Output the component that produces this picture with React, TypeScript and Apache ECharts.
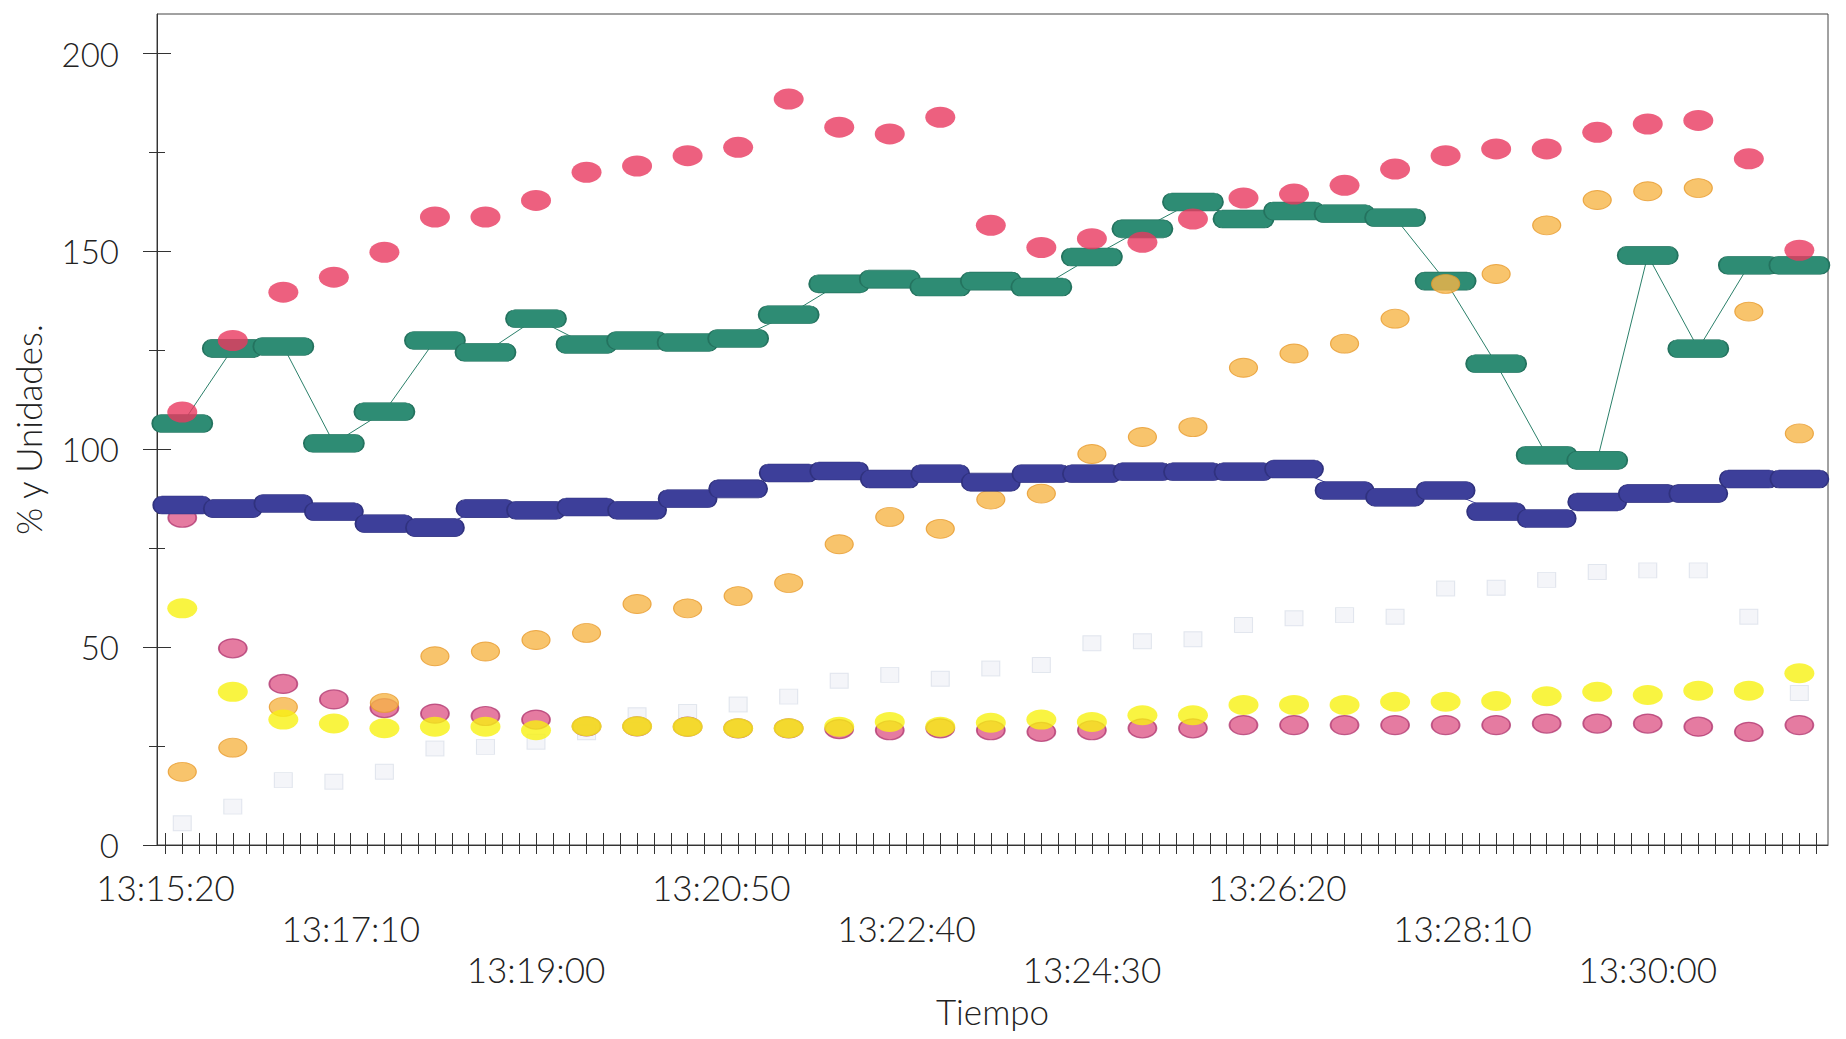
import React, { useEffect, useRef } from 'react';
import * as echarts from 'echarts';

// Sample times (every 30 s)
const times = [
  '13:15:30', '13:16:00', '13:16:30', '13:17:00', '13:17:30', '13:18:00', '13:18:30', '13:19:00',
  '13:19:30', '13:20:00', '13:20:30', '13:21:00', '13:21:30', '13:22:00', '13:22:30', '13:23:00',
  '13:23:30', '13:24:00', '13:24:30', '13:25:00', '13:25:30', '13:26:00', '13:26:30', '13:27:00',
  '13:27:30', '13:28:00', '13:28:30', '13:29:00', '13:29:30', '13:30:00', '13:30:30', '13:31:00',
  '13:31:30',
];

const rojo = [109.4, 127.5, 139.7, 143.5, 149.8, 158.7, 158.7, 162.9, 170.0, 171.6, 174.2, 176.3, 188.5, 181.4, 179.7, 183.9,
  156.6, 151.0, 153.2, 152.3, 158.2, 163.5, 164.5, 166.7, 170.8, 174.2, 175.9, 175.9, 180.1, 182.2, 183.1, 173.4, 150.3];

const verde = [106.5, 125.5, 126.0, 101.5, 109.5, 127.5, 124.5, 133.0, 126.5, 127.5, 127.0, 128.0, 134.0, 141.8, 143.0, 141.0,
  142.5, 141.0, 148.6, 155.7, 162.5, 158.2, 160.2, 159.5, 158.5, 142.5, 121.6, 98.5, 97.2, 149.0, 125.4, 146.5, 146.5];

const azul = [85.9, 85.0, 86.3, 84.2, 81.2, 80.2, 85.0, 84.6, 85.4, 84.6, 87.5, 90.0, 94.0, 94.5, 92.5, 93.8,
  91.7, 93.8, 93.8, 94.3, 94.3, 94.3, 95.0, 89.6, 87.9, 89.6, 84.2, 82.5, 86.7, 88.8, 88.8, 92.5, 92.5];

const naranja = [18.5, 24.6, 34.9, null, 35.9, 47.7, 48.9, 51.8, 53.6, 60.9, 59.8, 62.9, 66.2, 76.0, 82.9, 79.9,
  87.3, 88.8, 98.8, 103.1, 105.6, 120.6, 124.2, 126.7, 133.0, 141.8, 144.3, 156.6, 163.0, 165.2, 166.0, 134.8, 104.0];

const amarillo = [59.8, 38.7, 31.7, 30.7, 29.5, 29.9, 29.9, 29.0, 30.0, 30.0, 29.9, 29.5, 29.5, 29.9, 31.1, 29.9,
  30.9, 31.7, 31.1, 32.8, 32.8, 35.4, 35.4, 35.4, 36.2, 36.2, 36.4, 37.6, 38.7, 37.9, 39.0, 39.0, 43.4];

const rosa = [82.7, 49.7, 40.7, 36.8, 34.6, 33.2, 32.6, 31.7, 30.0, 30.0, 29.9, 29.5, 29.5, 29.3, 29.0, 29.5,
  29.0, 28.6, 29.0, 29.5, 29.5, 30.3, 30.3, 30.3, 30.3, 30.3, 30.3, 30.7, 30.7, 30.7, 29.9, 28.6, 30.3];

const gris = [5.5, 9.7, 16.4, 16.0, 18.5, 24.4, 24.8, 26.1, 28.5, 32.8, 33.6, 35.5, 37.5, 41.5, 43.0, 42.0,
  44.6, 45.5, 51.0, 51.5, 52.0, 55.6, 57.3, 58.1, 57.7, 64.8, 65.0, 67.0, 69.0, 69.4, 69.4, 57.7, 38.4];

// Axis ticks / labels
const xTickLabels = ['13:15:20', '13:17:10', '13:19:00', '13:20:50', '13:22:40', '13:24:30', '13:26:20', '13:28:10', '13:30:00'];
const xAxisStart = '13:15:15';
const xAxisEnd = '13:31:47';
const xMinorFirst = '13:15:20';
const xMinorLast = '13:31:40';
const xMinorStep = 10;
const yTickLabels = [0, 50, 100, 150, 200];
const yMinorTicks = [25, 75, 125, 175];
const yMax = 210;

const toSec = (s: string) => {
  const [h, m, ss] = s.split(':').map(Number);
  return h * 3600 + m * 60 + ss;
};
const pad = (n: number) => (n < 10 ? '0' + n : '' + n);
const fmt = (v: number) => {
  const h = Math.floor(v / 3600);
  const m = Math.floor((v % 3600) / 60);
  const s = Math.round(v % 60);
  return `${h}:${pad(m)}:${pad(s)}`;
};

const PILL = 'path://M9,0L51,0A9,9,0,0,1,51,18L9,18A9,9,0,0,1,9,0Z';
const ELLIPSE = 'path://M0,10A15,10,0,1,1,30,10A15,10,0,1,1,0,10Z';

const FONT = 'Lato';

export default function App() {
  const ref = useRef<HTMLDivElement>(null);

  useEffect(() => {
    document.body.style.margin = '0';
    const chart = echarts.init(ref.current!, undefined, { renderer: 'svg' });

    const xs = times.map(toSec);
    const pair = (arr: (number | null)[]) => xs.map((x, i) => [x, arr[i]]);
    const majorX = xTickLabels.map(toSec);
    const minorX: number[] = [];
    for (let t = toSec(xMinorFirst); t <= toSec(xMinorLast); t += xMinorStep) minorX.push(t);
    const xMin = toSec(xAxisStart);
    const xMax = toSec(xAxisEnd);

    const axisColor = '#333';
    const textColor = '#222';

    const baseX = {
      type: 'value',
      min: xMin,
      max: xMax,
      position: 'bottom',
      splitLine: { show: false },
    };
    const baseY = {
      type: 'value',
      min: 0,
      max: yMax,
      position: 'left',
      splitLine: { show: false },
    };

    const option: any = {
      animation: false,
      backgroundColor: '#ffffff',
      grid: {
        left: 157,
        right: 18,
        top: 14,
        bottom: 194,
        show: true,
        borderColor: '#444',
        borderWidth: 1,
        containLabel: false,
      },
      xAxis: [
        {
          ...baseX,
          axisLine: { show: true, lineStyle: { color: axisColor, width: 1 } },
          axisTick: { show: true, inside: false, length: 9, customValues: minorX, lineStyle: { color: axisColor, width: 1 } },
          axisLabel: {
            show: true,
            customValues: majorX,
            margin: 21,
            fontFamily: FONT,
            fontWeight: 300,
            fontSize: 35,
            lineHeight: 41,
            color: textColor,
            formatter: (v: number) => {
              const idx = majorX.indexOf(v);
              const row = idx >= 0 ? idx % 3 : 0;
              return '\n'.repeat(row) + (idx >= 0 ? xTickLabels[idx] : fmt(v));
            },
          },
          name: 'Tiempo',
          nameLocation: 'middle',
          nameGap: 146,
          nameTextStyle: { fontFamily: FONT, fontWeight: 300, fontSize: 35, color: textColor },
        },
        {
          ...baseX,
          axisLine: { show: false },
          axisTick: { show: true, inside: true, length: 12, customValues: minorX, lineStyle: { color: axisColor, width: 1 } },
          axisLabel: { show: false },
        },
      ],
      yAxis: [
        {
          ...baseY,
          axisLine: { show: true, lineStyle: { color: axisColor, width: 1 } },
          axisTick: { show: true, inside: false, length: 14, customValues: yTickLabels, lineStyle: { color: axisColor, width: 1 } },
          axisLabel: {
            show: true,
            customValues: yTickLabels,
            margin: 38,
            fontFamily: FONT,
            fontWeight: 300,
            fontSize: 33,
            lineHeight: 26,
            color: textColor,
          },
          name: '% y Unidades.',
          nameLocation: 'middle',
          nameRotate: 90,
          nameGap: 112,
          nameTextStyle: { fontFamily: FONT, fontWeight: 300, fontSize: 35, color: textColor },
        },
        {
          ...baseY,
          axisLine: { show: false },
          axisTick: { show: true, inside: true, length: 14, customValues: yTickLabels, lineStyle: { color: axisColor, width: 1 } },
          axisLabel: { show: false },
        },
        {
          ...baseY,
          axisLine: { show: false },
          axisTick: { show: true, inside: true, length: 8, customValues: yMinorTicks, lineStyle: { color: axisColor, width: 1 } },
          axisLabel: { show: false },
        },
        {
          ...baseY,
          axisLine: { show: false },
          axisTick: { show: true, inside: false, length: 8, customValues: yMinorTicks, lineStyle: { color: axisColor, width: 1 } },
          axisLabel: { show: false },
        },
      ],
      series: [
        {
          name: 'Gris',
          type: 'scatter',
          data: pair(gris),
          symbol: 'rect',
          symbolSize: [18, 15],
          itemStyle: { color: 'rgba(214,220,232,0.35)', borderColor: 'rgba(165,178,200,0.35)', borderWidth: 1 },
          z: 1,
          silent: true,
        },
        {
          name: 'Verde',
          type: 'line',
          data: pair(verde),
          symbol: PILL,
          symbolSize: [60, 18],
          showAllSymbol: true,
          itemStyle: { color: '#2e8c74', borderColor: '#24735f', borderWidth: 1 },
          lineStyle: { color: '#2b806a', width: 1 },
          z: 2,
          silent: true,
        },
        {
          name: 'Rosa',
          type: 'scatter',
          data: pair(rosa),
          symbol: ELLIPSE,
          symbolSize: [28, 19],
          itemStyle: { color: '#de5a8a', borderColor: '#b13a72', borderWidth: 1.5 },
          z: 3,
          silent: true,
        },
        {
          name: 'Naranja',
          type: 'scatter',
          data: pair(naranja),
          symbol: ELLIPSE,
          symbolSize: [28, 19],
          itemStyle: { color: '#f6b547', borderColor: '#e79a2c', borderWidth: 1 },
          z: 4,
          silent: true,
        },
        {
          name: 'Azul',
          type: 'line',
          data: pair(azul),
          symbol: PILL,
          symbolSize: [58, 18],
          showAllSymbol: true,
          itemStyle: { color: '#3d3f9a', borderColor: '#30327f', borderWidth: 1 },
          lineStyle: { color: '#3d3f9a', width: 1 },
          z: 5,
          silent: true,
        },
        {
          name: 'Amarillo',
          type: 'scatter',
          data: pair(amarillo),
          symbol: ELLIPSE,
          symbolSize: [30, 20],
          itemStyle: { color: '#f7f112' },
          z: 6,
          silent: true,
        },
        {
          name: 'Rojo',
          type: 'scatter',
          data: pair(rojo),
          symbol: ELLIPSE,
          symbolSize: [30, 21],
          itemStyle: { color: '#e8385f' },
          z: 7,
          silent: true,
        },
      ],
    };

    chart.setOption(option);
    return () => chart.dispose();
  }, []);

  return <div ref={ref} style={{ width: 1846, height: 1039 }} />;
}
